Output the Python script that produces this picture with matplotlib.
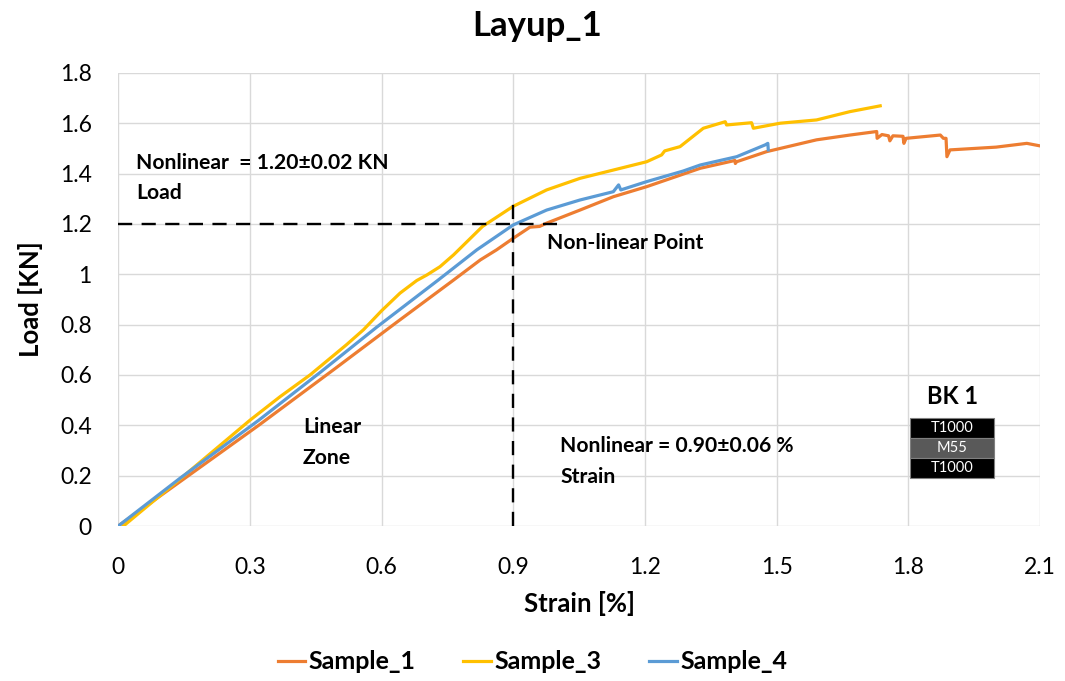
import matplotlib
matplotlib.use('Agg')
import matplotlib.pyplot as plt
from matplotlib.patches import Rectangle

plt.rcParams['font.family'] = ['Lato', 'DejaVu Sans']

# Sample_1 (orange)
s1_strain = [0, 0.16, 0.32, 0.49, 0.635, 0.764, 0.825, 0.862, 0.9, 0.938, 0.96, 0.976,
             1.052, 1.128, 1.204, 1.326, 1.405, 1.406, 1.409, 1.477, 1.591, 1.667, 1.728,
             1.729, 1.74, 1.755, 1.758, 1.765, 1.788, 1.79, 1.795, 1.873, 1.88, 1.886,
             1.888, 1.895, 2.0, 2.07, 2.1]
s1_load = [0, 0.2, 0.4, 0.62, 0.81, 0.977, 1.057, 1.097, 1.143, 1.187, 1.19, 1.203,
           1.255, 1.308, 1.348, 1.421, 1.452, 1.44, 1.447, 1.487, 1.534, 1.553, 1.567,
           1.54, 1.555, 1.55, 1.53, 1.55, 1.548, 1.52, 1.54, 1.553, 1.54, 1.54,
           1.467, 1.494, 1.505, 1.52, 1.51]

# Sample_3 (yellow)
s3_strain = [0.012, 0.15, 0.30, 0.369, 0.437, 0.52, 0.559, 0.60, 0.642, 0.68, 0.703, 0.733,
             0.764, 0.83, 0.9, 0.976, 1.052, 1.128, 1.204, 1.238, 1.245, 1.28, 1.333,
             1.383, 1.386, 1.443, 1.447, 1.508, 1.591, 1.667, 1.736]
s3_load = [0, 0.2, 0.42, 0.514, 0.6, 0.72, 0.78, 0.855, 0.925, 0.975, 0.997, 1.03,
           1.077, 1.19, 1.27, 1.335, 1.381, 1.414, 1.447, 1.474, 1.49, 1.507, 1.58,
           1.606, 1.593, 1.602, 1.58, 1.60, 1.613, 1.646, 1.669]

# Sample_4 (blue)
s4_strain = [0, 0.141, 0.32, 0.46, 0.589, 0.729, 0.817, 0.9, 0.976, 1.052, 1.128, 1.14,
             1.145, 1.204, 1.287, 1.326, 1.409, 1.474, 1.48, 1.481]
s4_load = [0, 0.19, 0.42, 0.61, 0.79, 0.977, 1.097, 1.196, 1.255, 1.295, 1.328, 1.355,
           1.335, 1.368, 1.41, 1.434, 1.467, 1.514, 1.52, 1.494]

x_ticks = [0, 0.3, 0.6, 0.9, 1.2, 1.5, 1.8, 2.1]
x_labels = ['0', '0.3', '0.6', '0.9', '1.2', '1.5', '1.8', '2.1']
y_ticks = [0, 0.2, 0.4, 0.6, 0.8, 1.0, 1.2, 1.4, 1.6, 1.8]
y_labels = ['0', '0.2', '0.4', '0.6', '0.8', '1', '1.2', '1.4', '1.6', '1.8']

layers = ['T1000', 'M55', 'T1000']
layer_colors = ['black', '#595959', 'black']

nl_load = 1.20
nl_strain = 0.90

fig = plt.figure(figsize=(10.65, 6.81), dpi=100)
ax = fig.add_axes([0.111, 0.2276, 0.8655, 0.6654])

ax.plot(s1_strain, s1_load, color='#ED7D31', lw=2.3, label='Sample_1')
ax.plot(s3_strain, s3_load, color='#FFC000', lw=2.3, label='Sample_3')
ax.plot(s4_strain, s4_load, color='#5B9BD5', lw=2.3, label='Sample_4')

# nonlinear point markers
ax.plot([0, 1.0], [nl_load, nl_load], color='black', lw=1.7, ls=(0, (6, 4)))
ax.plot([nl_strain, nl_strain], [0, 1.3], color='black', lw=1.7, ls=(0, (6, 4)))

ax.set_xlim(0, 2.1)
ax.set_ylim(0, 1.8)
ax.set_xticks(x_ticks)
ax.set_xticklabels(x_labels)
ax.set_yticks(y_ticks)
ax.set_yticklabels(y_labels)
ax.tick_params(length=0, labelsize=16.5)
ax.tick_params(axis='x', pad=22)
ax.tick_params(axis='y', pad=19)
ax.grid(True, color='#d9d9d9', lw=1.0)
ax.set_axisbelow(True)
for sp in ax.spines.values():
    sp.set_visible(False)

ax.set_xlabel('Strain [%]', fontsize=18.5, fontweight='bold', labelpad=10)
ax.set_ylabel('Load [KN]', fontsize=18.5, fontweight='bold', labelpad=12)
fig.text(0.504, 0.962, 'Layup_1', ha='center', va='center', fontsize=25, fontweight='bold')

tkw = dict(fontsize=15.2, fontweight='bold', va='center', ha='left')
ax.text(0.041, 1.442, 'Nonlinear  = 1.20\u00b10.02 KN', **tkw)
ax.text(0.041, 1.323, 'Load', **tkw)
ax.text(0.977, 1.124, 'Non-linear Point', **tkw)
ax.text(0.421, 0.393, 'Linear', **tkw)
ax.text(0.421, 0.27, 'Zone', **tkw)
ax.text(1.007, 0.318, 'Nonlinear = 0.90\u00b10.06 %', **tkw)
ax.text(1.007, 0.195, 'Strain', **tkw)
ax.text(1.90, 0.516, 'BK 1', fontsize=17, fontweight='bold', ha='center', va='center')

top = 0.429
h = 0.0795
for i, (name, c) in enumerate(zip(layers, layer_colors)):
    y0 = top - (i + 1) * h
    ax.add_patch(Rectangle((1.804, y0), 0.191, h, facecolor=c, edgecolor='#7f7f7f', lw=0.8))
    ax.text(1.8995, y0 + h / 2, name, color='white', fontsize=10.5, ha='center', va='center')

fig.legend(loc='center', bbox_to_anchor=(0.5, 0.028), ncol=3, frameon=False,
           prop={'size': 18, 'weight': 'bold'}, handlelength=1.1, handletextpad=0.15,
           columnspacing=1.9)

fig.savefig('out.png', dpi=100)
